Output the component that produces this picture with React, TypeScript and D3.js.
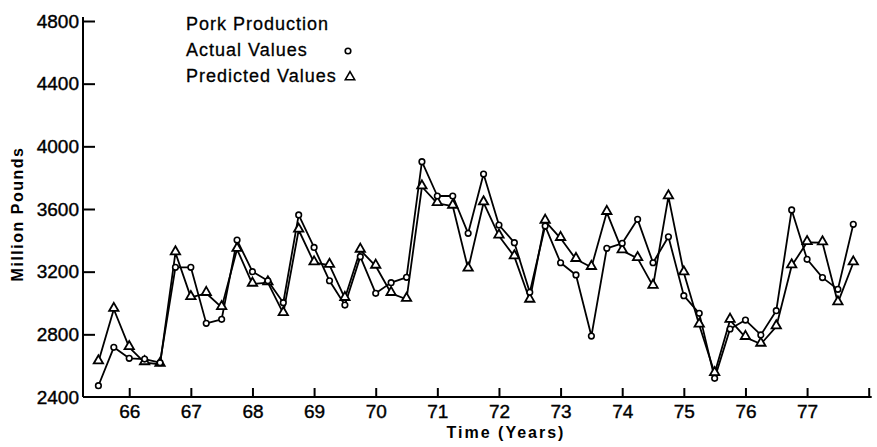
import React, { useEffect, useRef } from 'react';
import * as d3 from 'd3';

// quarter positions (year fractions), 1965.5 .. 1977.75
const quarters = [
  65.5, 65.75, 66, 66.25, 66.5, 66.75, 67, 67.25, 67.5, 67.75,
  68, 68.25, 68.5, 68.75, 69, 69.25, 69.5, 69.75, 70, 70.25,
  70.5, 70.75, 71, 71.25, 71.5, 71.75, 72, 72.25, 72.5, 72.75,
  73, 73.25, 73.5, 73.75, 74, 74.25, 74.5, 74.75, 75, 75.25,
  75.5, 75.75, 76, 76.25, 76.5, 76.75, 77, 77.25, 77.5, 77.75,
];

const actual = [
  2472, 2717, 2647, 2642, 2619, 3228, 3228, 2870, 2896, 3402,
  3200, 3142, 3002, 3562, 3355, 3142, 2987, 3296, 3062, 3130,
  3164, 3902, 3683, 3683, 3445, 3823, 3498, 3385, 3068, 3491,
  3257, 3179, 2789, 3349, 3381, 3534, 3257, 3423, 3047, 2934,
  2519, 2834, 2891, 2796, 2951, 3594, 3279, 3162, 3087, 3502,
];

const predicted = [
  2625, 2960, 2717, 2620, 2609, 3321, 3036, 3062, 2972, 3343,
  3121, 3130, 2934, 3466, 3257, 3242, 3030, 3338, 3236, 3062,
  3024, 3742, 3636, 3619, 3217, 3640, 3428, 3296, 3019, 3523,
  3413, 3279, 3228, 3579, 3334, 3285, 3108, 3679, 3193, 2860,
  2551, 2891, 2781, 2738, 2849, 3238, 3387, 3385, 3002, 3257,
];

const yTicks = [2400, 2800, 3200, 3600, 4000, 4400, 4800];
const xTicks = [66, 67, 68, 69, 70, 71, 72, 73, 74, 75, 76, 77, 78];
const xTickLabels = ['66', '67', '68', '69', '70', '71', '72', '73', '74', '75', '76', '77', ''];

const legendTitle = 'Pork Production';
const legendActual = 'Actual Values';
const legendPredicted = 'Predicted Values';

const W = 877;
const H = 447;
const FONT = "'Liberation Sans', Arial, sans-serif";

export default function App() {
  const ref = useRef<SVGSVGElement>(null);

  useEffect(() => {
    const svg = d3.select(ref.current);
    svg.selectAll('*').remove();

    const x = d3.scaleLinear().domain([65.25, 78]).range([83, 868.7]);
    const y = d3.scaleLinear().domain([2400, 4800]).range([397, 21]);

    // y axis, ticks pointing inward
    const yAxis = svg.append('g')
      .attr('transform', `translate(${x(65.25)},0)`)
      .call(d3.axisRight(y).tickValues(yTicks).tickSize(12).tickFormat(d3.format('d')));
    yAxis.select('.domain').attr('stroke', '#000').attr('stroke-width', 2).attr('d', `M0,${y(4800) - 4}V${y(2400)}`);
    yAxis.selectAll('.tick line').attr('stroke', '#000').attr('stroke-width', 2)
      .attr('display', (d: any) => (d === 2400 ? 'none' : null));
    yAxis.selectAll('.tick text')
      .attr('x', -4)
      .attr('text-anchor', 'end')
      .attr('fill', '#000')
      .attr('stroke', '#000')
      .attr('stroke-width', 0.4)
      .style('font-family', FONT)
      .style('font-size', '19px');

    // x axis, ticks pointing upward
    const xAxis = svg.append('g')
      .attr('transform', `translate(0,${y(2400)})`)
      .call(d3.axisTop(x).tickValues(xTicks).tickSize(9)
        .tickFormat((d, i) => xTickLabels[i]));
    xAxis.select('.domain').attr('stroke', '#000').attr('stroke-width', 2).attr('d', `M${x(65.25)},0H${x(78) + 3}`);
    xAxis.selectAll('.tick line').attr('stroke', '#000').attr('stroke-width', 2);
    xAxis.selectAll('.tick text')
      .attr('y', 21)
      .attr('dy', 0)
      .attr('fill', '#000')
      .attr('stroke', '#000')
      .attr('stroke-width', 0.4)
      .style('font-family', FONT)
      .style('font-size', '19px');

    // axis titles
    svg.append('text')
      .attr('x', 506)
      .attr('y', 438)
      .attr('text-anchor', 'middle')
      .style('font-family', FONT)
      .style('font-size', '16px')
      .style('font-weight', 'bold')
      .style('letter-spacing', '2px')
      .text('Time (Years)');

    svg.append('text')
      .attr('transform', 'translate(23,214) rotate(-90)')
      .attr('text-anchor', 'middle')
      .style('font-family', FONT)
      .style('font-size', '16px')
      .style('font-weight', 'bold')
      .style('letter-spacing', '1.5px')
      .text('Million Pounds');

    const line = d3.line<number>()
      .x((d, i) => x(quarters[i]))
      .y(d => y(d));

    const tri = d3.symbol().type(d3.symbolTriangle).size(38);

    // predicted series
    svg.append('path')
      .attr('d', line(predicted))
      .attr('fill', 'none')
      .attr('stroke', '#000')
      .attr('stroke-width', 1.8)
      .attr('stroke-linejoin', 'round');

    // actual series
    svg.append('path')
      .attr('d', line(actual))
      .attr('fill', 'none')
      .attr('stroke', '#000')
      .attr('stroke-width', 1.8)
      .attr('stroke-linejoin', 'round');

    svg.append('g').selectAll('path')
      .data(predicted)
      .enter()
      .append('path')
      .attr('d', tri)
      .attr('transform', (d, i) => `translate(${x(quarters[i])},${y(d) - 1})`)
      .attr('fill', '#fff')
      .attr('stroke', '#000')
      .attr('stroke-width', 1.8);

    svg.append('g').selectAll('circle')
      .data(actual)
      .enter()
      .append('circle')
      .attr('cx', (d, i) => x(quarters[i]))
      .attr('cy', d => y(d))
      .attr('r', 2.8)
      .attr('fill', '#fff')
      .attr('stroke', '#000')
      .attr('stroke-width', 1.6);

    // legend
    const lg = svg.append('g')
      .style('font-family', FONT)
      .style('font-size', '18px')
      .style('letter-spacing', '1px')
      .attr('stroke', '#000')
      .attr('stroke-width', 0.3);
    lg.append('text').attr('x', 186).attr('y', 30).text(legendTitle);
    lg.append('text').attr('x', 186).attr('y', 56).text(legendActual);
    lg.append('text').attr('x', 186).attr('y', 82).text(legendPredicted);
    lg.append('circle')
      .attr('cx', 348).attr('cy', 51).attr('r', 2.8)
      .attr('fill', '#fff').attr('stroke', '#000').attr('stroke-width', 1.6);
    lg.append('path')
      .attr('d', tri)
      .attr('transform', 'translate(350,77)')
      .attr('fill', '#fff').attr('stroke', '#000').attr('stroke-width', 1.6);
  }, []);

  return (
    <svg
      ref={ref}
      width={W}
      height={H}
      style={{ position: 'absolute', left: 0, top: 0, background: '#fff' }}
    />
  );
}
